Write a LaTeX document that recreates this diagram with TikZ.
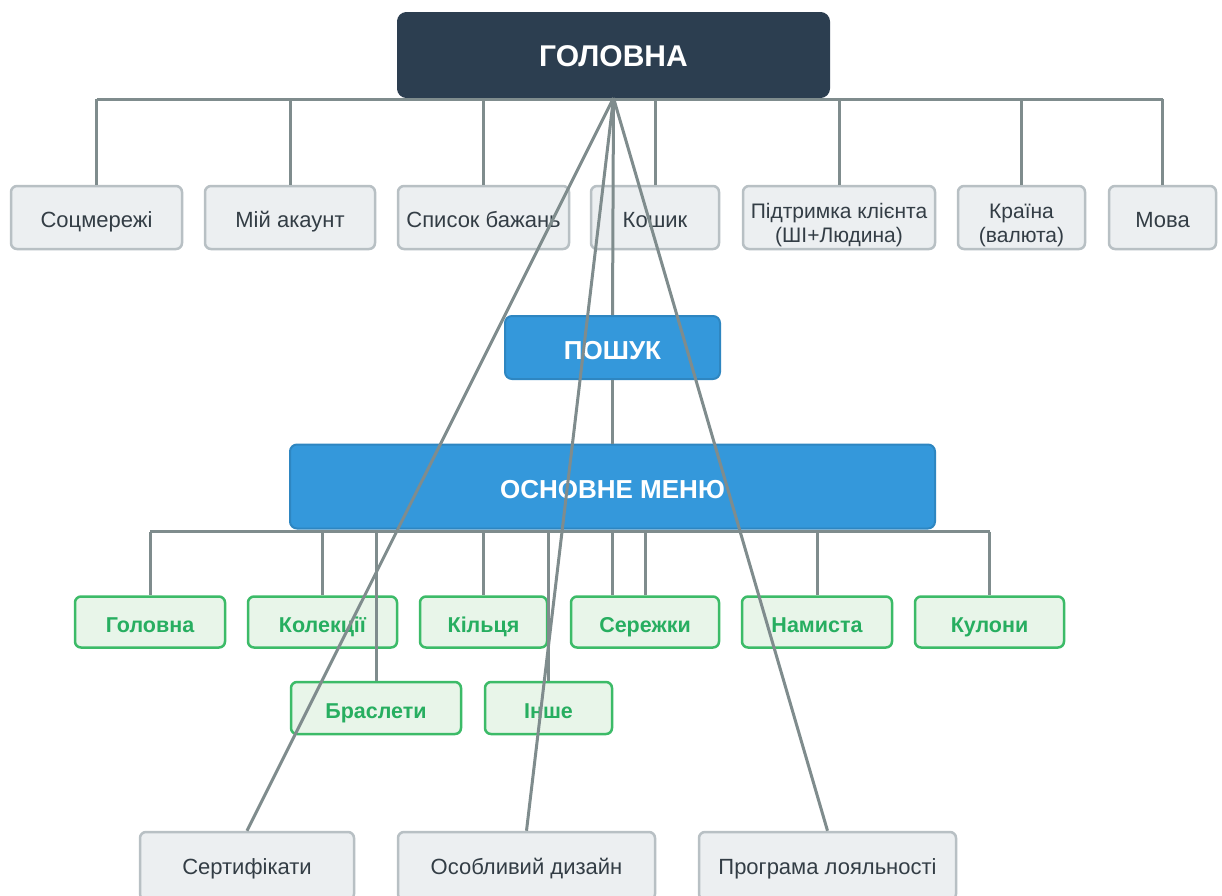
\documentclass[tikz,border=0pt]{standalone}
\usepackage{fontspec}
\setmainfont{Liberation Sans}
\definecolor{linec}{HTML}{7F8C8D}
\definecolor{darkf}{HTML}{2C3E50}
\definecolor{bluef}{HTML}{3498DB}
\definecolor{blued}{HTML}{2E86C1}
\definecolor{grayf}{HTML}{ECEFF1}
\definecolor{grayb}{HTML}{B8C0C4}
\definecolor{grayt}{HTML}{333D45}
\definecolor{greenf}{HTML}{E8F5E9}
\definecolor{greenb}{HTML}{3CBB68}
\definecolor{greent}{HTML}{27AE60}
\newcommand{\twolines}[2]{\begin{tabular}{@{}c@{}}#1\\#2\end{tabular}}
\begin{document}
\begin{tikzpicture}[x=1pt,y=-1pt,
  conn/.style={draw=linec,line width=3pt},
  rootbox/.style={fill=darkf,draw=darkf,line width=1pt,rounded corners=9pt,text=white,
    font=\bfseries\fontsize{30}{33}\selectfont,inner sep=0pt,text height=23.5pt,text depth=0pt},
  bluebox/.style={fill=bluef,draw=blued,line width=2pt,rounded corners=7pt,text=white,
    font=\bfseries\fontsize{26}{29}\selectfont,inner sep=0pt,text height=23.8pt,text depth=0pt},
  graybox/.style={fill=grayf,draw=grayb,line width=2.5pt,rounded corners=6pt,text=grayt,
    font=\fontsize{22}{23.5}\selectfont,inner sep=0pt,text height=20.75pt,text depth=0pt},
  graytwo/.style={graybox,font=\fontsize{21}{23.5}\selectfont,text height=27.1pt,text depth=0pt},
  graylow/.style={graybox,text height=16.75pt,text depth=0pt},
  greenbox/.style={fill=greenf,draw=greenb,line width=2.5pt,rounded corners=6pt,text=greent,
    font=\bfseries\fontsize{21.5}{23}\selectfont,inner sep=0pt,text height=21.4pt,text depth=0pt}
]
\clip (0,0) rectangle (1222,895);
\fill[white] (0,0) rectangle (1222,895);

% root and blue nodes
\node[rootbox,minimum width=432pt,minimum height=85pt] (root) at (613.5,55) {ГОЛОВНА};
\node[bluebox,minimum width=215pt,minimum height=63pt] (search) at (612.5,347.5) {ПОШУК};
\node[bluebox,minimum width=645pt,minimum height=84pt] (menu) at (612.5,486.5) {ОСНОВНЕ МЕНЮ};

% top row
\node[graybox,minimum width=171pt,minimum height=63pt] (s1) at (96.5,217.5) {Соцмережі};
\node[graybox,minimum width=170pt,minimum height=63pt] (s2) at (290,217.5) {Мій акаунт};
\node[graybox,minimum width=171pt,minimum height=63pt] (s3) at (483.5,217.5) {Список бажань};
\node[graybox,minimum width=128pt,minimum height=63pt] (s4) at (655,217.5) {Кошик};
\node[graytwo,minimum width=192pt,minimum height=63pt] (s5) at (839,217.5) {\twolines{Підтримка клієнта}{(ШІ+Людина)}};
\node[graytwo,minimum width=127pt,minimum height=63pt] (s6) at (1021.5,217.5) {\twolines{Країна}{(валюта)}};
\node[graybox,minimum width=107pt,minimum height=63pt] (s7) at (1162.5,217.5) {Мова};

% green rows
\node[greenbox,minimum width=150pt,minimum height=51pt] (g1) at (150,622) {Головна};
\node[greenbox,minimum width=149pt,minimum height=51pt] (g2) at (322.5,622) {Колекції};
\node[greenbox,minimum width=127pt,minimum height=51pt] (g3) at (483.5,622) {Кільця};
\node[greenbox,minimum width=148pt,minimum height=51pt] (g4) at (645,622) {Сережки};
\node[greenbox,minimum width=150pt,minimum height=51pt] (g5) at (817,622) {Намиста};
\node[greenbox,minimum width=149pt,minimum height=51pt] (g6) at (989.5,622) {Кулони};
\node[greenbox,minimum width=170pt,minimum height=52pt] (g7) at (376,708) {Браслети};
\node[greenbox,minimum width=127pt,minimum height=52pt] (g8) at (548.5,708) {Інше};

% bottom row
\node[graylow,minimum width=214pt,minimum height=68pt] (b1) at (247,866) {Сертифікати};
\node[graylow,minimum width=257pt,minimum height=68pt] (b2) at (526.5,866) {Особливий дизайн};
\node[graylow,minimum width=257pt,minimum height=68pt] (b3) at (827.5,866) {Програма лояльності};

% connectors
\coordinate (tbus) at (613.5,99);
\draw[conn] (tbus -| s1) -- (tbus -| s7);
\foreach \n in {s1,s2,s3,s4,s5,s6,s7} {\draw[conn] (tbus -| \n) -- (\n.north);}
\draw[conn] (root.south) -- (search.north);
\draw[conn] (search.south) -- (menu.north);

\coordinate (mbus) at (612.5,531.5);
\draw[conn] (mbus -| g1) -- (mbus -| g6);
\foreach \n in {g1,g2,g3,g4,g5,g6,g7,g8} {\draw[conn] (mbus -| \n) -- (\n.north);}
\draw[conn] (menu.south) -- (menu.south |- g4.north);

\draw[conn] (root.south) -- (b1.north);
\draw[conn] (root.south) -- (b2.north);
\draw[conn] (root.south) -- (b3.north);
\end{tikzpicture}
\end{document}
